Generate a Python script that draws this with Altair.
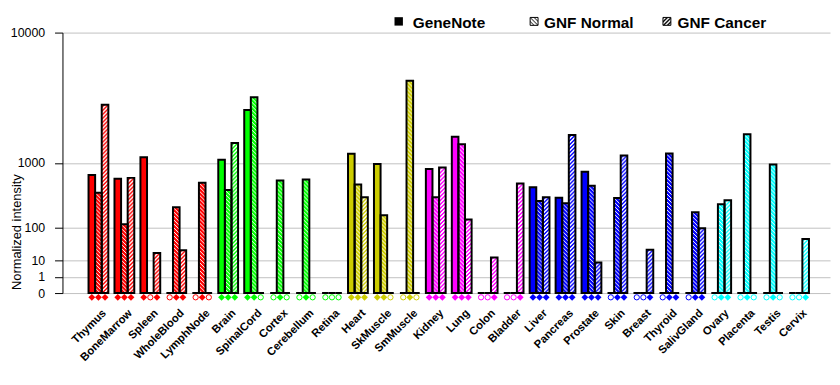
import altair as alt
import pandas as pd
from urllib.parse import quote

# ---------------- data ----------------
TISSUES = ["Thymus", "BoneMarrow", "Spleen", "WholeBlood", "LymphNode",
           "Brain", "SpinalCord", "Cortex", "Cerebellum", "Retina",
           "Heart", "SkMuscle", "SmMuscle",
           "Kidney", "Lung", "Colon", "Bladder",
           "Liver", "Pancreas", "Prostate", "Skin", "Breast", "Thyroid", "SalivGland",
           "Ovary", "Placenta", "Testis", "Cervix"]
TISSUE_GROUP = [0] * 5 + [1] * 5 + [2] * 3 + [3] * 4 + [4] * 7 + [5] * 4
SERIES = ["GeneNote", "GNF Normal", "GNF Cancer"]

GENENOTE = [720, 650, 1150, 0, 0, 1080, 3100, 0, 0, 0, 1250, 970, 0,
            850, 1830, 0, 0, 500, 355, 790, 0, 0, 0, 0, 0, 0, 0, 0]
GNF_NORMAL = [420, 120, 0, 250, 575, 460, 3870, 615, 635, 0, 545, 180, 5070,
              360, 1560, 0, 0, 315, 290, 525, 350, 0, 1260, 205, 280, 1930, 955, 0]
GNF_CANCER = [3400, 665, 20, 25, 0, 1600, 0, 0, 0, 0, 360, 0, 0,
              885, 150, 13.5, 565, 360, 1900, 8, 1200, 25.6, 0, 98, 325, 0, 0, 54]
# detection calls (filled diamond = 1, open circle = 0) for GeneNote / Normal / Cancer
CALLS = ["111", "111", "101", "011", "010", "111", "110", "010", "010", "000",
         "111", "110", "010", "111", "111", "001", "001", "111", "111", "111",
         "011", "001", "011", "011", "011", "010", "010", "001"]

# ---------------- styles ----------------
GROUP_COLORS = ["#ff0000", "#00ff00", "#cccc00", "#ff00ff", "#0000ff", "#00ffff"]
FONT = "Liberation Sans, Arial, sans-serif"


def blend(hex_color, white_frac):
    r, g, b = (int(hex_color[i:i + 2], 16) for i in (1, 3, 5))
    mix = lambda c: round(c * (1 - white_frac) + 255 * white_frac)
    return "#%02x%02x%02x" % (mix(r), mix(g), mix(b))


def pattern_uri(bg, kind, fg="#ffffff"):
    if kind == "normal":      # thin "\" hatch
        cells = [(i, i) for i in range(4)]
    else:                      # wide "/" stripes
        cells = [((3 - y) % 4, y) for y in range(4)] + [((4 - y) % 4, y) for y in range(4)]
    rects = "".join(f"<rect x='{x}' y='{y}' width='1' height='1' fill='{fg}'/>" for x, y in cells)
    svg = ("<svg xmlns='http://www.w3.org/2000/svg' width='100%' height='100%' shape-rendering='crispEdges'>"
           "<defs><pattern id='p' x='0' y='0' width='4' height='4' patternUnits='userSpaceOnUse'>"
           f"<rect width='4' height='4' fill='{bg}'/>{rects}</pattern></defs>"
           "<rect width='100%' height='100%' fill='url(#p)'/></svg>")
    return "data:image/svg+xml;charset=utf-8," + quote(svg)


rows = []
for i, t in enumerate(TISSUES):
    col = GROUP_COLORS[TISSUE_GROUP[i]]
    for j, (s, vals) in enumerate(zip(SERIES, [GENENOTE, GNF_NORMAL, GNF_CANCER])):
        rows.append({
            "tissue": t, "series": s, "value": vals[i],
            "present": int(CALLS[i][j]),
            "color": col,
            "fill": col if j == 0 else blend(col, 0.25 if j == 1 else 0.5),
            "url": "" if j == 0 else pattern_uri(col, "normal" if j == 1 else "cancer"),
        })
df = pd.DataFrame(rows)

# ---------------- encodings ----------------
x_enc = alt.X("tissue:N", sort=TISSUES,
              scale=alt.Scale(paddingInner=0.237, paddingOuter=0.908, align=0.553),
              axis=alt.Axis(title=None, labelAngle=-45, labelAlign="right", labelBaseline="top",
                            labelFont=FONT, labelFontWeight="bold", labelFontSize=11.3,
                            labelColor="black", ticks=False, domain=False, grid=False,
                            labelPadding=14, labelOffset=2, labelOverlap=False))
xo_enc = alt.XOffset("series:N", sort=SERIES, scale=alt.Scale(paddingInner=0, paddingOuter=0))
y_enc = alt.Y("value:Q",
              scale=alt.Scale(type="pow", exponent=0.30103, domain=[0, 10000], nice=False),
              axis=alt.Axis(values=[0, 1, 10, 100, 1000, 10000], format="d",
                            title="Normalized intensity", titleFont=FONT, titleFontSize=13,
                            titleFontWeight="normal", titleColor="black", titleX=-39, titleY=201,
                            labelFont=FONT, labelFontSize=12.5, labelColor="black",
                            labelPadding=10, tickSize=8, tickColor="black", domainColor="black",
                            grid=True, gridColor="#c0c0c0", labelOverlap=False, labelFlush=False))

base = alt.Chart(df).encode(x=x_enc, xOffset=xo_enc)

fills = base.mark_bar(strokeWidth=0).encode(
    y=y_enc, y2=alt.datum(0), fill=alt.Fill("fill:N", scale=None))
hatches = base.mark_image(aspect=False).encode(
    y=y_enc, y2=alt.datum(0), url=alt.Url("url:N")
).transform_filter(alt.datum.series != "GeneNote")
outlines = base.mark_bar(fill="transparent", stroke="black", strokeWidth=2).encode(
    y=y_enc, y2=alt.datum(0))

on_marks = base.mark_point(shape="diamond", filled=True, size=48, opacity=1).encode(
    y=alt.value(267.3), color=alt.Color("color:N", scale=None)
).transform_filter("datum.present == 1")
off_marks = base.mark_point(shape="circle", filled=False, size=28, strokeWidth=1, opacity=1).encode(
    y=alt.value(267.3), color=alt.Color("color:N", scale=None)
).transform_filter("datum.present == 0")

# ---------------- custom legend ----------------
LEG_SYM_Y = -11.3
LEG_TEXT_Y = -4.7


def legend_item(label, sym_x, text_x, kind=None):
    d = alt.Data(values=[{"label": label}])
    layers = []
    if kind is None:
        layers.append(alt.Chart(d).mark_square(size=72, color="black", opacity=1).encode(
            x=alt.value(sym_x), y=alt.value(LEG_SYM_Y)))
    else:
        layers.append(alt.Chart(d).mark_image(width=8, height=8, aspect=False).encode(
            x=alt.value(sym_x), y=alt.value(LEG_SYM_Y),
            url=alt.value(pattern_uri("#ffffff", kind, fg="#000000"))))
        layers.append(alt.Chart(d).mark_square(size=64, filled=False, color="black",
                                               strokeWidth=1, opacity=1).encode(
            x=alt.value(sym_x), y=alt.value(LEG_SYM_Y)))
    layers.append(alt.Chart(d).mark_text(align="left", baseline="alphabetic", font=FONT,
                                         fontSize=15.5, fontWeight="bold", color="black").encode(
        x=alt.value(text_x), y=alt.value(LEG_TEXT_Y), text="label:N"))
    return layers


legend_layers = (legend_item("GeneNote", 339.5, 353.7)
                 + legend_item("GNF Normal", 476.2, 486.3, "normal")
                 + legend_item("GNF Cancer", 610.3, 621.0, "cancer"))

chart = alt.layer(fills, hatches, outlines, on_marks, off_marks, *legend_layers).properties(
    width=775, height=263,
    autosize=alt.AutoSizeParams(type="none"),
    padding={"left": 55, "top": 23, "right": 2, "bottom": 90},
    background="white",
).configure_view(stroke=None)

chart.save("out.html", embed_options={"renderer": "svg", "actions": False})
